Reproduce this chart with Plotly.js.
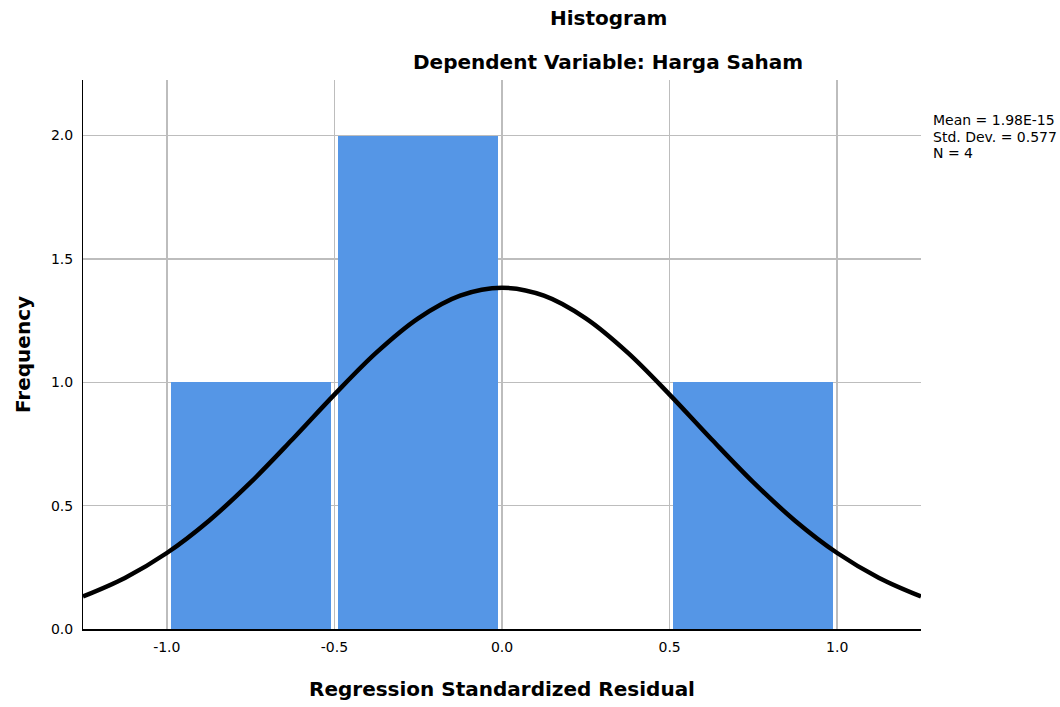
<!DOCTYPE html>
<html>
<head>
<meta charset="utf-8">
<script src="https://cdn.plot.ly/plotly-3.0.1.min.js"></script>
<style>html,body{margin:0;padding:0;background:#fff;}#chart{width:1060px;height:707px;}</style>
</head>
<body>
<div id="chart"></div>
<script>
// Histogram bins (centers) and frequencies
const binCenters = [-0.75, -0.25, 0.25, 0.75];
const frequencies = [1, 2, 0, 1];

// Normal curve points
const curveX = [-1.25, -1.125, -1.0, -0.875, -0.75, -0.625, -0.5, -0.375, -0.25, -0.125, 0.0,
                0.125, 0.25, 0.375, 0.5, 0.625, 0.75, 0.875, 1.0, 1.125, 1.25];
const curveY = [0.132, 0.207, 0.308, 0.438, 0.594, 0.769, 0.950, 1.120, 1.259, 1.351, 1.383,
                1.351, 1.259, 1.120, 0.950, 0.769, 0.594, 0.438, 0.308, 0.207, 0.132];

// Tick labels
const xTickVals = [-1.0, -0.5, 0.0, 0.5, 1.0];
const xTickText = ["-1.0", "-0.5", "0.0", "0.5", "1.0"];
const yTickVals = [0.0, 0.5, 1.0, 1.5, 2.0];
const yTickText = ["0.0", "0.5", "1.0", "1.5", "2.0"];

// Stats text
const statsLines = ["Mean = 1.98E-15", "Std. Dev. = 0.577", "N = 4"];
const chartTitle = "Histogram";
const chartSubtitle = "Dependent Variable: Harga Saham";

const FONT = "DejaVu Sans, Liberation Sans, Arial, sans-serif";

const traces = [
  {
    type: "bar",
    x: binCenters,
    y: frequencies,
    width: 0.477,
    marker: {color: "#5596E6", line: {width: 0}},
    hoverinfo: "x+y",
    showlegend: false
  },
  {
    type: "scatter",
    mode: "lines",
    x: curveX,
    y: curveY,
    line: {color: "#000000", width: 4.5, shape: "spline", smoothing: 1},
    hoverinfo: "skip",
    showlegend: false
  }
];

const statsAnnotations = statsLines.map((t, i) => ({
  xref: "paper", yref: "paper", x: 1, xshift: 10, y: 1, yshift: -40 - i * 16.5,
  xanchor: "left", yanchor: "middle", align: "left", text: t, showarrow: false,
  font: {size: 14, family: FONT, color: "#000000"}
}));

const layout = {
  width: 1060,
  height: 707,
  margin: {l: 83, r: 139, t: 80, b: 78},
  paper_bgcolor: "#ffffff",
  plot_bgcolor: "#ffffff",
  font: {family: FONT, color: "#000000", size: 14},
  bargap: 0,
  xaxis: {
    range: [-1.25, 1.25],
    tickmode: "array",
    tickvals: xTickVals,
    ticktext: xTickText,
    ticks: "",
    ticklabelstandoff: 5,
    showgrid: true,
    gridcolor: "#bdbdbd",
    gridwidth: 1.5,
    zeroline: false,
    showline: true,
    linecolor: "#000000",
    linewidth: 1.5,
    tickfont: {size: 14, family: FONT, color: "#000000"},
    title: {text: "Regression Standardized Residual", font: {size: 20, family: FONT, color: "#000000", weight: "bold"}, standoff: 27}
  },
  yaxis: {
    range: [0, 2.225],
    tickmode: "array",
    tickvals: yTickVals,
    ticktext: yTickText,
    ticks: "",
    ticklabelstandoff: 6,
    showgrid: true,
    gridcolor: "#bdbdbd",
    gridwidth: 1.5,
    zeroline: false,
    showline: true,
    linecolor: "#000000",
    linewidth: 1,
    tickfont: {size: 14, family: FONT, color: "#000000"},
    title: {text: "Frequency", font: {size: 20, family: FONT, color: "#000000", weight: "bold"}, standoff: 14}
  },
  annotations: [
    {xref: "paper", yref: "paper", x: 0.627, y: 1, yshift: 62, xanchor: "center", yanchor: "middle",
     text: "<b>" + chartTitle + "</b>", showarrow: false, font: {size: 20, family: FONT, color: "#000000"}},
    {xref: "paper", yref: "paper", x: 0.627, y: 1, yshift: 18, xanchor: "center", yanchor: "middle",
     text: "<b>" + chartSubtitle + "</b>", showarrow: false, font: {size: 20, family: FONT, color: "#000000"}}
  ].concat(statsAnnotations)
};

Plotly.newPlot("chart", traces, layout, {displayModeBar: false, staticPlot: true});
</script>
</body>
</html>
